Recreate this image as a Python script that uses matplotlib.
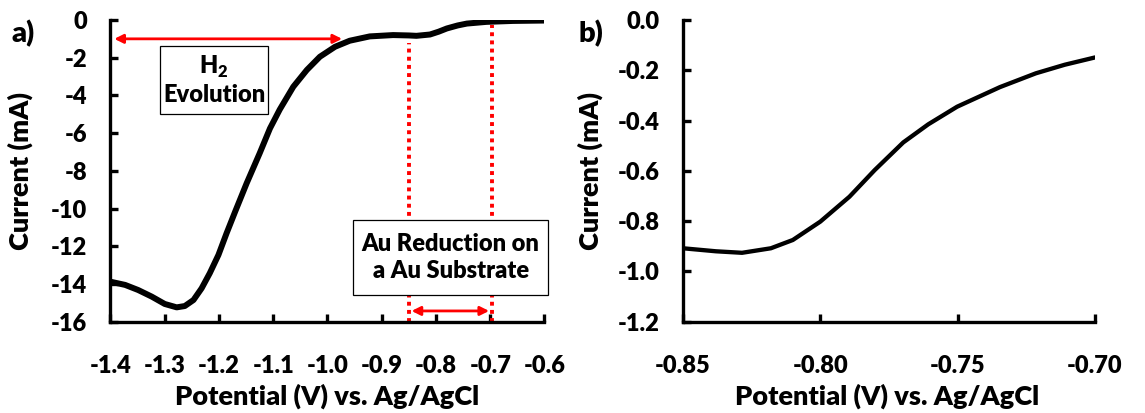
import matplotlib.pyplot as plt
from matplotlib.patches import Rectangle

plt.rcParams['font.family'] = ['Lato', 'DejaVu Sans']
plt.rcParams['font.weight'] = 800
plt.rcParams['mathtext.fontset'] = 'custom'
plt.rcParams['mathtext.rm'] = 'Lato:weight=800'
plt.rcParams['mathtext.bf'] = 'Lato:weight=800'

# panel a: full sweep (V, mA)
pot_a = [-1.400, -1.373, -1.349, -1.324, -1.300, -1.278, -1.263, -1.247, -1.232,
         -1.217, -1.201, -1.186, -1.170, -1.149, -1.125, -1.106, -1.088, -1.063,
         -1.038, -1.014, -0.986, -0.959, -0.922, -0.879, -0.850, -0.836, -0.811,
         -0.795, -0.780, -0.760, -0.743, -0.707, -0.658, -0.600]
cur_a = [-13.88, -14.05, -14.32, -14.67, -15.06, -15.24, -15.17, -14.85, -14.23,
         -13.43, -12.46, -11.31, -10.15, -8.66, -7.07, -5.75, -4.75, -3.54,
         -2.65, -1.95, -1.42, -1.10, -0.87, -0.80, -0.82, -0.84, -0.77,
         -0.62, -0.45, -0.29, -0.19, -0.10, -0.05, -0.03]

# panel b: zoom on the Au reduction wave
pot_b = [-0.850, -0.838, -0.8285, -0.818, -0.810, -0.800, -0.7894, -0.7802, -0.7698,
         -0.7607, -0.7502, -0.7346, -0.7215, -0.711, -0.700]
cur_b = [-0.908, -0.920, -0.926, -0.908, -0.875, -0.802, -0.703, -0.597, -0.487,
         -0.415, -0.345, -0.267, -0.212, -0.178, -0.149]

xt_a = [-1.4, -1.3, -1.2, -1.1, -1.0, -0.9, -0.8, -0.7, -0.6]
yt_a = [0, -2, -4, -6, -8, -10, -12, -14, -16]
xt_b = [-0.85, -0.80, -0.75, -0.70]
yt_b = [0.0, -0.2, -0.4, -0.6, -0.8, -1.0, -1.2]

fig = plt.figure(figsize=(11.45, 4.13), dpi=100)
ax1 = fig.add_axes([0.0965, 0.2211, 0.3790, 0.7305])
ax2 = fig.add_axes([0.5965, 0.2211, 0.3598, 0.7305])

red = '#ff0000'
FS_TICK = 17
FS_LAB = 19.5


def style(ax, ylab_x, xlab_x):
    for s in ['top', 'right']:
        ax.spines[s].set_visible(False)
    for s in ['left', 'bottom']:
        ax.spines[s].set_linewidth(2.4)
        ax.spines[s].set_capstyle('projecting')
    ax.tick_params(axis='both', direction='in', length=5.5, width=2.4, labelsize=FS_TICK)
    ax.tick_params(axis='y', pad=17)
    ax.tick_params(axis='x', pad=24)
    ax.set_xlabel('Potential (V) vs. Ag/AgCl', fontsize=FS_LAB, fontweight=800)
    ax.set_ylabel('Current (mA)', fontsize=FS_LAB, fontweight=800)
    ax.xaxis.set_label_coords(xlab_x, -0.205)
    ax.yaxis.set_label_coords(ylab_x, 0.5)
    for lab in ax.get_xticklabels() + ax.get_yticklabels():
        lab.set_fontweight(800)


ax1.plot(pot_a, cur_a, color='black', lw=4.3, solid_capstyle='round',
         solid_joinstyle='round', zorder=3)
ax1.set_xlim(-1.4, -0.6)
ax1.set_ylim(-16, 0)
ax1.set_xticks(xt_a)
ax1.set_xticklabels([f'{v:.1f}' for v in xt_a])
ax1.set_yticks(yt_a)
ax1.set_yticklabels([str(v) for v in yt_a])
style(ax1, -0.179, 0.5)

arrow = dict(arrowstyle='<|-|>', color=red, lw=2, mutation_scale=13, shrinkA=0, shrinkB=0)
ax1.annotate('', xy=(-1.393, -1.0), xytext=(-0.973, -1.0), arrowprops=arrow, zorder=4)
ax1.vlines(-0.850, -16, -1.2, colors=red, linestyles=(0, (1, 1.1)), lw=2.8, zorder=2)
ax1.vlines(-0.696, -16, -0.25, colors=red, linestyles=(0, (1, 1.1)), lw=2.8, zorder=2)
ax1.annotate('', xy=(-0.845, -15.43), xytext=(-0.702, -15.43), arrowprops=arrow, zorder=4)

ax1.add_patch(Rectangle((-1.309, -4.99), 0.200, 3.63, fc='white', ec='black',
                        lw=0.9, zorder=5, clip_on=False))
ax1.text(-1.209, -3.17, 'H$_\\mathbf{2}$\nEvolution', ha='center', va='center',
         fontsize=17, fontweight=800, linespacing=1.2, zorder=6)
ax1.add_patch(Rectangle((-0.953, -14.6), 0.360, 4.0, fc='white', ec='black',
                        lw=0.9, zorder=5, clip_on=False))
ax1.text(-0.773, -12.6, 'Au Reduction on\na Au Substrate', ha='center', va='center',
         fontsize=17, fontweight=800, linespacing=1.25, zorder=6)

ax2.plot(pot_b, cur_b, color='black', lw=3.1, solid_capstyle='round',
         solid_joinstyle='round', zorder=3)
ax2.set_xlim(-0.85, -0.70)
ax2.set_ylim(-1.2, 0.0)
ax2.set_xticks(xt_b)
ax2.set_xticklabels([f'{v:.2f}' for v in xt_b])
ax2.set_yticks(yt_b)
ax2.set_yticklabels([f'{v:.1f}' for v in yt_b])
style(ax2, -0.193, 0.495)

fig.text(0.010, 0.918, 'a)', fontsize=21, fontweight=800, va='center')
fig.text(0.505, 0.918, 'b)', fontsize=21, fontweight=800, va='center')

fig.savefig('out.png', dpi=100)
